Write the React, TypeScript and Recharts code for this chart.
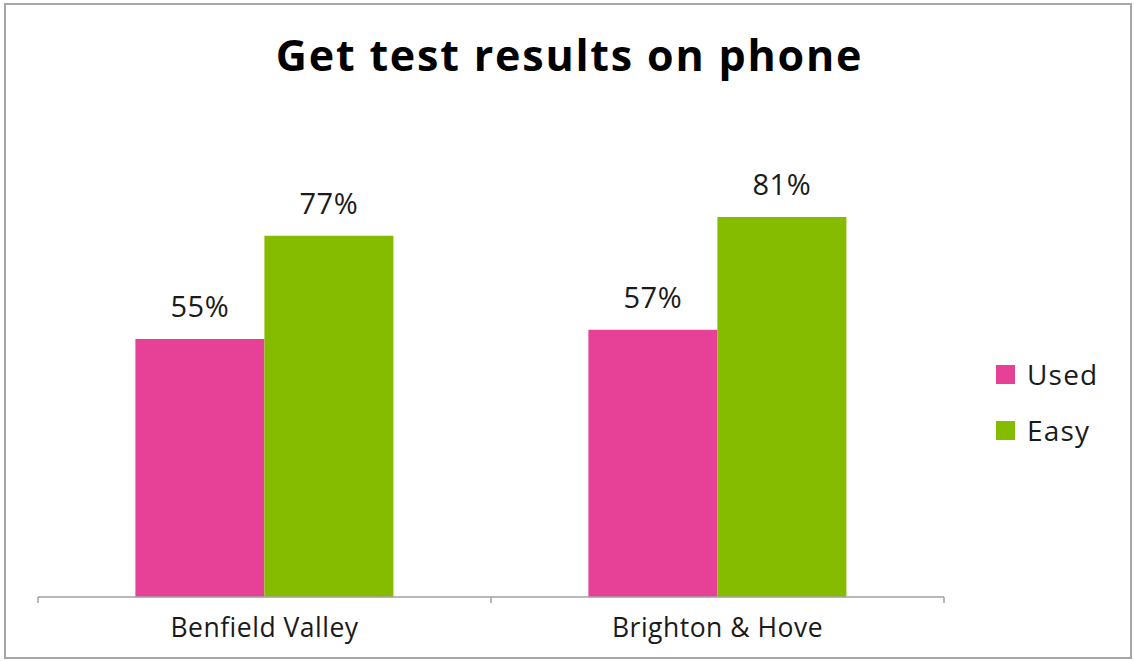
import { Bar, BarChart, LabelList, Legend, XAxis, YAxis } from "recharts";

const areas = ["Benfield Valley", "Brighton & Hove"];
const used = [55, 57];
const easy = [77, 81];
const seriesOrder = ["Used", "Easy"];

const rows = areas.map((area, i) => ({ area, used: used[i], easy: easy[i] }));

const PINK = "#E64097";
const GREEN = "#86BC00";
const AXIS = "#A0A0A0";
const FONT = "'Open Sans', sans-serif";

function LegendBox({ payload }: any) {
  const items = [...(payload || [])].sort(
    (a: any, b: any) => seriesOrder.indexOf(a.value) - seriesOrder.indexOf(b.value)
  );
  return (
    <div style={{ fontFamily: FONT }}>
      {items.map((p: any) => (
        <div key={p.value} style={{ display: "flex", alignItems: "center", height: 56 }}>
          <span style={{ width: 19, height: 19, background: p.color, display: "inline-block", marginRight: 12 }} />
          <span style={{ fontSize: 28, letterSpacing: 1.2, color: "#1a1a1a" }}>{p.value}</span>
        </div>
      ))}
    </div>
  );
}

// category tick with the tick marks drawn on the band edges, like the original
function AreaTick({ x, y, payload, index, visibleTicksCount }: any) {
  const half = payload.offset || 0;
  const last = index === (visibleTicksCount ?? areas.length) - 1;
  return (
    <g>
      <line x1={x - half} x2={x - half} y1={y} y2={y + 6} stroke={AXIS} strokeWidth={1.5} />
      {last && <line x1={x + half} x2={x + half} y1={y} y2={y + 6} stroke={AXIS} strokeWidth={1.5} />}
      <text
        x={x}
        y={y + 40}
        textAnchor="middle"
        fill="#1a1a1a"
        fontSize={26.5}
        letterSpacing={0.5}
        fontFamily={FONT}
      >
        {payload.value}
      </text>
    </g>
  );
}

export default function App() {
  return (
    <div style={{ position: "absolute", left: 0, top: 0, width: 1134, height: 661, background: "#fff" }}>
      <div
        style={{
          position: "absolute",
          left: 4,
          top: 3,
          width: 1124,
          height: 652,
          border: "2px solid #A6A6A6",
        }}
      />
      <div
        style={{
          position: "absolute",
          left: 0,
          width: 1139,
          top: 25,
          textAlign: "center",
          fontFamily: FONT,
          fontWeight: 700,
          fontSize: 43,
          letterSpacing: 1.8,
          color: "#000",
        }}
      >
        Get test results on phone
      </div>
      <div style={{ position: "absolute", left: 0, top: 0 }}>
        <BarChart
          width={1134}
          height={661}
          data={rows}
          margin={{ top: 128, right: 190, bottom: 4, left: 38 }}
          barCategoryGap="21.5%"
          barGap={0}
        >
          <XAxis
            dataKey="area"
            height={60}
            axisLine={{ stroke: AXIS, strokeWidth: 1.5 }}
            tickLine={false}
            tickSize={0}
            tickMargin={0}
            interval={0}
            tick={<AreaTick />}
          />
          <YAxis hide domain={[0, 100]} />
          <Legend
            layout="vertical"
            verticalAlign="middle"
            align="center"
            content={<LegendBox />}
            wrapperStyle={{ left: 996, top: 346, width: 130 }}
          />
          <Bar dataKey="used" name="Used" fill={PINK} isAnimationActive={false}>
            <LabelList
              dataKey="used"
              position="top"
              offset={22}
              formatter={(v: any) => `${v}%`}
              style={{ fill: "#1a1a1a", fontSize: 29, letterSpacing: 0.6, fontFamily: FONT }}
            />
          </Bar>
          <Bar dataKey="easy" name="Easy" fill={GREEN} isAnimationActive={false}>
            <LabelList
              dataKey="easy"
              position="top"
              offset={22}
              formatter={(v: any) => `${v}%`}
              style={{ fill: "#1a1a1a", fontSize: 29, letterSpacing: 0.6, fontFamily: FONT }}
            />
          </Bar>
        </BarChart>
      </div>
    </div>
  );
}
